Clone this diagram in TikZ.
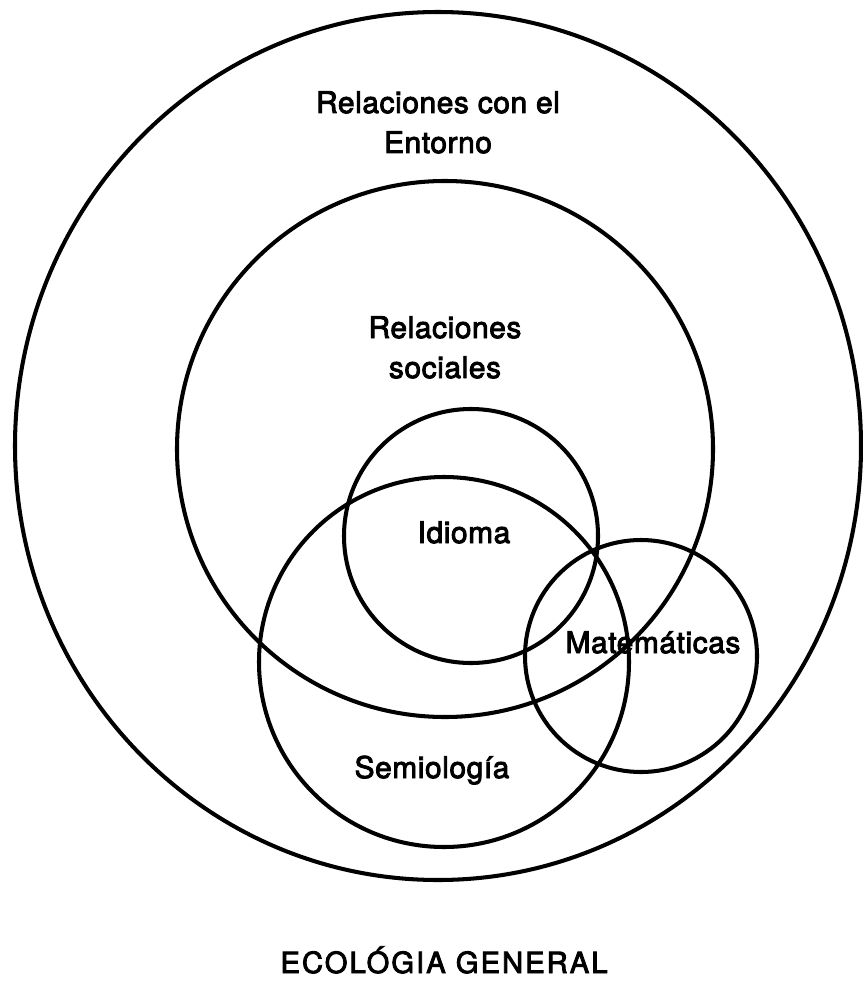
\documentclass[tikz,border=0pt]{standalone}
\usepackage{fontspec}
\setmainfont{TeX Gyre Heros}[FakeBold=3]
\begin{document}
\begin{tikzpicture}[x=0.02cm,y=-0.02cm,
  ring/.style={draw=black,line width=2.3pt},
  lbl/.style={anchor=base,inner sep=0pt,font=\fontsize{17}{22}\selectfont\addfontfeature{LetterSpace=2}},
  ttl/.style={anchor=base,inner sep=0pt,font=\fontsize{16.6}{20}\selectfont\addfontfeature{LetterSpace=7}}]
\useasboundingbox (0,0) rectangle (862,983);
\fill[white] (0,0) rectangle (862,983);
% circles
\draw[ring] (438,446) ellipse [x radius=423, y radius=434];
\draw[ring] (445,449) circle [radius=268];
\draw[ring] (471,536) circle [radius=127];
\draw[ring] (444,662) circle [radius=185];
\draw[ring] (641,656) circle [radius=116];
% labels
\node[lbl] (ent1) at (438,113) {Relaciones con el};
\node[lbl] (ent2) at (438,153) {Entorno};
\node[lbl] (soc1) at (445,338) {Relaciones};
\node[lbl] (soc2) at (445,378) {sociales};
\node[lbl] (idi) at (464,543) {Idioma};
\node[lbl] (mat) at (653,653) {Matemáticas};
\node[lbl] (sem) at (432,778) {Semiología};
\node[ttl] (eco) at (444,973) {ECOLÓGIA GENERAL};
\end{tikzpicture}
\end{document}
